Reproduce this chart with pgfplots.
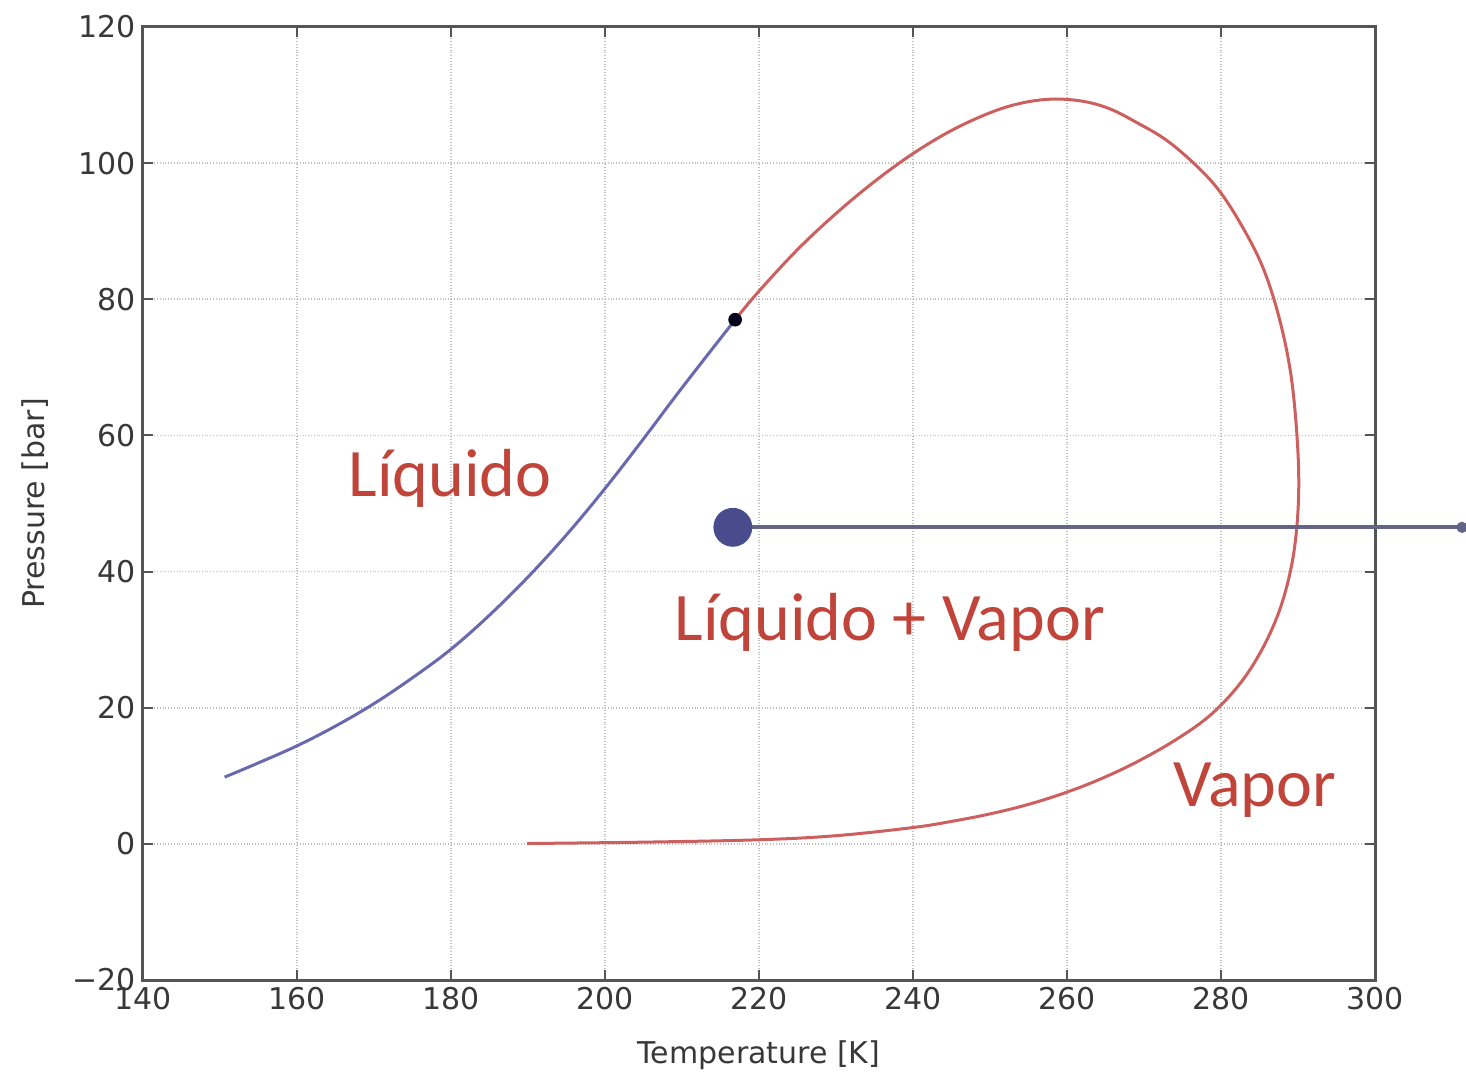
\documentclass[border=0pt]{standalone}
\usepackage{fontspec}
\setmainfont{DejaVu Sans}
\newfontfamily\calib{Carlito}
\usepackage{pgfplots}
\pgfplotsset{compat=1.18}
\definecolor{redline}{RGB}{205,95,95}
\definecolor{redtext}{RGB}{192,68,58}
\definecolor{blueline}{RGB}{105,105,175}
\definecolor{dotblue}{RGB}{72,76,140}
\definecolor{hline}{RGB}{100,100,135}
\definecolor{frame}{RGB}{85,85,85}
\begin{document}
\begin{tikzpicture}
\begin{axis}[name=ax,
  width=616pt, height=476.5pt, scale only axis,
  xmin=140, xmax=300, ymin=-20, ymax=120,
  xtick={140,160,...,300}, ytick={-20,0,...,120},
  yticklabels={−20,0,20,40,60,80,100,120},
  grid=major, major grid style={densely dotted, black!25, line width=0.9pt},
  axis line style={line width=1.5pt, frame},
  tick style={frame, line width=1pt}, tick align=inside, major tick length=5pt,
  /pgf/number format/assume math mode=true,
  ticklabel style={font=\fontsize{15}{18}\selectfont, text=black!78},
  xlabel={Temperature [K]}, ylabel={Pressure [bar]},
  label style={font=\fontsize{15}{18}\selectfont, text=black!78},
  xlabel style={at={(axis description cs:0.5,-0.0787)}, anchor=center},
  ylabel style={at={(axis description cs:-0.0877,0.5)}, anchor=center},
  clip=false,
]
% liquid saturation (blue)
\addplot[blueline, line width=1.5pt, smooth, tension=0.6] coordinates {
(150.6,9.8) (155,11.9) (160,14.4) (165,17.3) (170,20.6) (175,24.4) (180,28.6)
(185,33.6) (190,39.2) (195,45.4) (200,52.2) (205,59.5) (210,67.0) (216.9,77.0)
};
% vapor envelope (red)
\addplot[redline, line width=1.5pt, smooth, tension=0.6] coordinates {
(216.9,77.0) (220,81.2) (225,87.3) (230,92.6) (235,97.3) (240,101.4) (245,104.8)
(250,107.4) (254,108.8) (258,109.4) (262,109.1) (265.5,108.0) (269,106.0)
(273,103.3) (277,99.4) (280,95.6) (283,90.2) (285.5,84.5) (287.5,77.5)
(289,69.5) (289.8,61.0) (290.1,53.0) (289.8,46.0) (289,40.0) (287.5,34.0)
(285.2,28.3) (282.3,23.3) (278.5,18.8) (274,15.2) (269,12.0) (264.5,9.6)
(260,7.6) (255,5.8) (250,4.4) (245,3.3) (240,2.4) (230,1.2) (220,0.6)
(205,0.25) (189.9,0.05)
};
% horizontal line with end dot
\addplot[hline, line width=2pt] coordinates {(216.6,46.5) (311.3,46.5)};
\addplot[only marks, mark=*, mark size=2.6pt, mark options={fill=hline, draw=hline}] coordinates {(311.3,46.5)};
% big dot
\addplot[only marks, mark=*, mark size=9.5pt, mark options={fill=dotblue, draw=dotblue}] coordinates {(216.6,46.5)};
% critical point small dot
\addplot[only marks, mark=*, mark size=3.2pt, mark options={fill=black!90!blue, draw=black!90!blue}] coordinates {(216.9,77.0)};
% region labels
\node[text=redtext, font=\calib\fontsize{34}{40}\selectfont, anchor=center] at (axis cs:179.9,53.7) {Líquido};
\node[text=redtext, font=\calib\fontsize{34}{40}\selectfont, anchor=center] at (axis cs:237,32.6) {Líquido + Vapor};
\node[text=redtext, font=\calib\fontsize{34}{40}\selectfont, anchor=center] at (axis cs:284.4,7.9) {Vapor};
\end{axis}
\pgfresetboundingbox
\path ([shift={(-71.5pt,-48pt)}]ax.south west) rectangle ([shift={(45.5pt,13.5pt)}]ax.north east);
\end{tikzpicture}
\end{document}
